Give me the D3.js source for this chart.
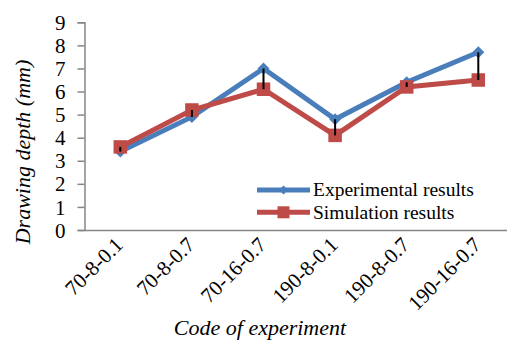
<!DOCTYPE html>
<html><head><meta charset="utf-8">
<script src="https://d3js.org/d3.v7.min.js"></script>
<style>
html,body{margin:0;padding:0;background:#fff;}
svg{display:block;}
</style></head>
<body>
<svg id="chart" width="507" height="341"></svg>
<script>
const categories = ["70-8-0.1","70-8-0.7","70-16-0.7","190-8-0.1","190-8-0.7","190-16-0.7"];
const experimental = [3.4, 4.9, 7.0, 4.8, 6.4, 7.7];
const simulation = [3.6, 5.2, 6.1, 4.1, 6.2, 6.5];
const yTicks = [0,1,2,3,4,5,6,7,8,9];
const seriesNames = ["Experimental results","Simulation results"];

const svg = d3.select("#chart");
const font = "'Liberation Serif','Times New Roman',serif";
const blue = "#4A7EBB", red = "#BE4B48", axisCol = "#868686";

const x0 = 84.5, step = 71.6, yBottom = 230, yTop = 22.3;
const x = d3.scaleBand().domain(categories).range([x0, x0 + step*categories.length]).padding(0);
const y = d3.scaleLinear().domain([0,9]).range([yBottom, yTop]);
const cx = c => x(c) + x.bandwidth()/2;

// Y axis
const yAxis = d3.axisLeft(y).tickValues(yTicks).tickSize(7).tickPadding(12).tickFormat(d3.format("d"));
const gy = svg.append("g").attr("transform", `translate(${x0},0)`).call(yAxis);
gy.select(".domain").attr("stroke", axisCol).attr("stroke-width", 1.5);
gy.selectAll(".tick line").attr("stroke", axisCol).attr("stroke-width", 1.5);
gy.selectAll(".tick text").attr("font-family", font).attr("font-size", 21).attr("fill", "#000").attr("dy","0.34em");

// X axis line
const xAxis = d3.axisBottom(x).tickSize(0).tickFormat("");
const gx = svg.append("g").attr("transform", `translate(0,${yBottom})`).call(xAxis);
gx.select(".domain").attr("stroke", axisCol).attr("stroke-width", 1.5);

// X tick labels
svg.append("g").selectAll("text").data(categories).join("text")
  .attr("transform", d => `translate(${cx(d)+4},${yBottom+16}) rotate(-45)`)
  .attr("text-anchor","end")
  .attr("font-family", font).attr("font-size", 21).attr("fill","#000")
  .text(d => d);

// Axis titles
svg.append("text").attr("transform", `translate(30,152) rotate(-90)`)
  .attr("text-anchor","middle").attr("font-family", font).attr("font-style","italic")
  .attr("font-size", 22).text("Drawing depth (mm)");
svg.append("text").attr("x", 260).attr("y", 335)
  .attr("text-anchor","middle").attr("font-family", font).attr("font-style","italic")
  .attr("font-size", 22).text("Code of experiment");

const line = d3.line().x((d,i) => cx(categories[i])).y(d => y(d));

// Experimental series
svg.append("path").datum(experimental).attr("d", line)
  .attr("fill","none").attr("stroke", blue).attr("stroke-width", 5).attr("stroke-linejoin","miter");
const diamond = d3.symbol().type(d3.symbolDiamond2 || d3.symbolDiamond).size(80);
svg.append("g").selectAll("path").data(experimental).join("path")
  .attr("transform", (d,i) => `translate(${cx(categories[i])},${y(d)}) rotate(0)`)
  .attr("d", d3.symbol().type(d3.symbolSquare).size(72))
  .attr("transform", (d,i) => `translate(${cx(categories[i])},${y(d)}) rotate(45)`)
  .attr("fill", blue);

// Simulation series
svg.append("path").datum(simulation).attr("d", line)
  .attr("fill","none").attr("stroke", red).attr("stroke-width", 5).attr("stroke-linejoin","miter");
svg.append("g").selectAll("rect").data(simulation).join("rect")
  .attr("x", (d,i) => cx(categories[i]) - 6.75).attr("y", d => y(d) - 6.75)
  .attr("width", 13.5).attr("height", 13.5).attr("fill", red);

// High-low lines
svg.append("g").selectAll("line").data(categories).join("line")
  .attr("x1", d => cx(d)).attr("x2", d => cx(d))
  .attr("y1", (d,i) => y(experimental[i])).attr("y2", (d,i) => y(simulation[i]))
  .attr("stroke","#000").attr("stroke-width", 2);

// Legend
const legend = svg.append("g");
const legY = [190, 212.3];
const colors = [blue, red];
seriesNames.forEach((name, i) => {
  legend.append("line").attr("x1", 257).attr("x2", 310).attr("y1", legY[i]).attr("y2", legY[i])
    .attr("stroke", colors[i]).attr("stroke-width", 5);
  if (i === 0) {
    legend.append("path").attr("d", d3.symbol().type(d3.symbolSquare).size(40))
      .attr("transform", `translate(283.5,${legY[i]}) rotate(45)`).attr("fill", blue);
  } else {
    legend.append("rect").attr("x", 283.5-6).attr("y", legY[i]-6).attr("width",12).attr("height",12).attr("fill", red);
  }
  legend.append("text").attr("x", 313).attr("y", legY[i]).attr("dy","0.33em")
    .attr("font-family", font).attr("font-size", 19.5).attr("fill","#000").text(name);
});
</script>
</body></html>
